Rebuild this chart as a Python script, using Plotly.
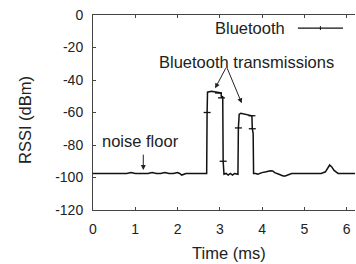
import plotly.graph_objects as go

# ---- data ----
time_ms = [0.0, 0.1, 0.2, 0.3, 0.4, 0.5, 0.6, 0.7, 0.8, 0.9, 1.0, 1.1, 1.2, 1.3, 1.4,
           1.5, 1.6, 1.7, 1.8, 1.9, 2.0, 2.05, 2.1, 2.15, 2.2, 2.3, 2.4, 2.5, 2.6, 2.69,
           2.70, 2.71, 2.8, 2.9, 2.97, 3.03, 3.04, 3.07, 3.08, 3.10, 3.15, 3.2, 3.25,
           3.3, 3.35, 3.40, 3.43, 3.44, 3.46, 3.5, 3.6, 3.7, 3.76, 3.77, 3.79, 3.80,
           3.85, 3.9, 4.0, 4.1, 4.2, 4.25, 4.3, 4.4, 4.5, 4.55, 4.6, 4.7, 4.8, 5.0,
           5.2, 5.4, 5.5, 5.55, 5.6, 5.65, 5.7, 5.75, 5.8, 5.9, 6.0, 6.1, 6.2]
rssi_dbm = [-97.5, -97.5, -97.5, -97.5, -97.5, -97.5, -97.5, -97.5, -97.5, -97.0, -97.5,
            -97.5, -97.5, -97.5, -97.0, -97.5, -97.5, -97.0, -97.5, -97.5, -97.0, -97.5,
            -98.5, -98.0, -97.5, -97.5, -97.5, -97.5, -97.5, -97.5,
            -60.0, -47.5, -47.0, -47.5, -48.0, -48.0, -51.0, -50.0, -90.0, -98.0, -97.5,
            -98.5, -97.5, -98.5, -97.5, -98.0, -98.0, -69.5, -61.0, -60.5, -61.0, -61.5,
            -62.0, -70.0, -73.0, -97.5,
            -97.5, -98.0, -97.0, -96.5, -95.8, -96.0, -97.0, -98.0, -99.0, -99.0, -98.5,
            -97.5, -97.5, -97.5, -97.5, -97.5, -96.5, -94.0, -92.3, -93.5, -95.5, -96.5,
            -97.5, -97.5, -97.5, -97.5, -97.5]
marker_idx = [30, 34, 36, 38, 47, 52, 53]

x_ticks = [0, 1, 2, 3, 4, 5, 6]
y_ticks = [0, -20, -40, -60, -80, -100, -120]
y_tick_labels = ["0", "-20", "-40", "-60", "-80", "-100", "-120"]
series_name = "Bluetooth"
x_title = "Time (ms)"
y_title = "RSSI (dBm)"

FONT = "Liberation Sans, Arial, sans-serif"
TXT = "#222222"
AX = "#444444"

fig = go.Figure()
fig.add_trace(go.Scatter(x=time_ms, y=rssi_dbm, mode="lines",
                         line=dict(color="#111111", width=1.5), name=series_name,
                         showlegend=False))
fig.add_trace(go.Scatter(x=[time_ms[i] for i in marker_idx],
                         y=[rssi_dbm[i] for i in marker_idx], mode="markers",
                         marker=dict(symbol="line-ew", size=5,
                                     line=dict(color="#111111", width=1.3)),
                         showlegend=False))

axis_common = dict(showline=True, linecolor=AX, linewidth=1, ticks="inside",
                   ticklen=3, tickcolor=AX, showgrid=False, zeroline=False,
                   automargin=False, ticklabelstandoff=6,
                   tickfont=dict(family=FONT, size=14, color=TXT))
fig.update_xaxes(range=[0, 6.2], tickvals=x_ticks, mirror="ticks", **axis_common)
fig.update_yaxes(range=[-120, 0], tickvals=y_ticks, ticktext=y_tick_labels,
                 **axis_common)

# axis titles placed as in the reference
fig.add_annotation(xref="paper", yref="paper", x=0.519, y=-0.2205, text=x_title,
                   showarrow=False, xanchor="center", yanchor="middle",
                   font=dict(family=FONT, size=16.5, color=TXT))
fig.add_annotation(xref="paper", yref="paper", x=-0.2595, y=0.4615, text=y_title,
                   showarrow=False, xanchor="center", yanchor="middle", textangle=-90,
                   font=dict(family=FONT, size=16.5, color=TXT))

# legend drawn gnuplot-style: text left of the sample line
fig.add_annotation(xref="paper", yref="paper", x=0.742, y=0.933, text=series_name,
                   showarrow=False, xanchor="right", yanchor="middle",
                   font=dict(family=FONT, size=16.5, color=TXT))
fig.add_shape(type="line", xref="paper", yref="paper", x0=0.782, x1=0.954,
              y0=0.933, y1=0.933, line=dict(color="#111111", width=1.3))
fig.add_shape(type="line", xref="paper", yref="paper", x0=0.868, x1=0.868,
              y0=0.923, y1=0.943, line=dict(color="#111111", width=1))

# annotations
fig.add_annotation(x=3.63, y=-28.7, text="Bluetooth transmissions", showarrow=False,
                   font=dict(family=FONT, size=16.5, color=TXT))
for hx, hy in [(2.89, -45.1), (3.52, -54.3)]:
    fig.add_annotation(x=hx, y=hy, ax=3.16, ay=-31.8, axref="x", ayref="y", text="",
                       showarrow=True, arrowhead=2, arrowsize=1, arrowwidth=1,
                       arrowcolor="#222222")
fig.add_annotation(x=1.13, y=-77.3, text="noise floor", showarrow=False,
                   font=dict(family=FONT, size=16.5, color=TXT))
fig.add_annotation(x=1.19, y=-95.4, ax=1.19, ay=-85, axref="x", ayref="y", text="",
                   showarrow=True, arrowhead=2, arrowsize=1, arrowwidth=1,
                   arrowcolor="#222222")

fig.update_layout(width=356, height=264, margin=dict(l=93, r=1, t=15, b=54),
                  plot_bgcolor="white", paper_bgcolor="white", showlegend=False)
fig.write_html("out.html", config={"displayModeBar": False},
               post_script="document.body.style.margin='0';document.body.style.padding='0';")
